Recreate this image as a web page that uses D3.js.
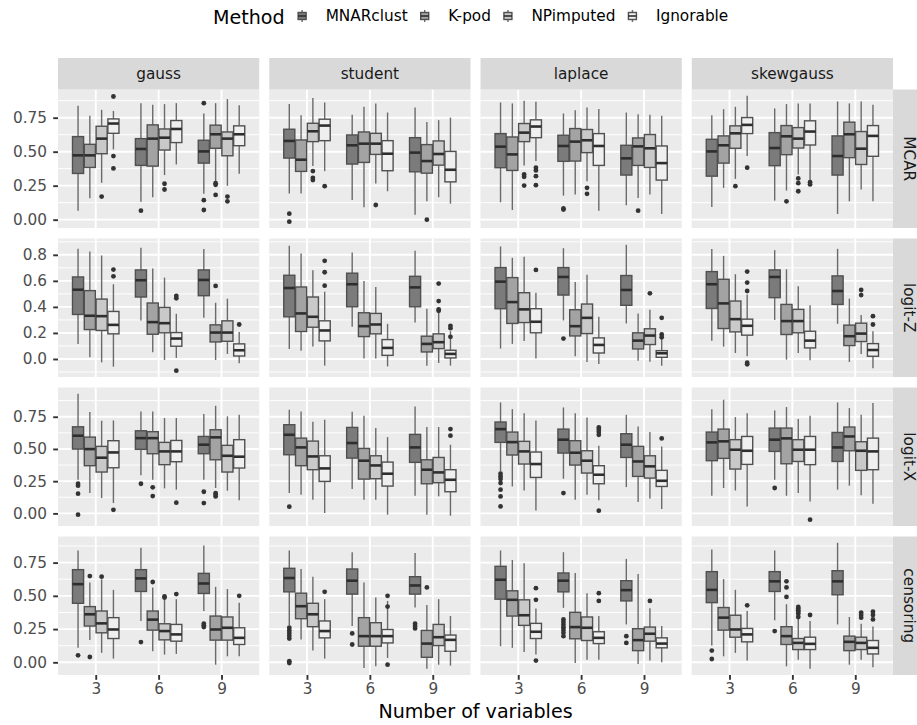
<!DOCTYPE html>
<html>
<head>
<meta charset="utf-8">
<style>
    body {
        margin: 0;
        background-color: white;
    }
    text {
        font-family: "DejaVu Sans", sans-serif;
    }
    .panel-bg {
        fill: #ebebeb;
    }
    .grid-major {
        stroke: white;
        stroke-width: 1.9;
    }
    .grid-minor {
        stroke: white;
        stroke-width: 0.95;
    }
    .strip {
        fill: #d9d9d9;
    }
    .strip-text {
        fill: #1a1a1a;
        font-size: 15.3px;
    }
    .axis text {
        fill: #4d4d4d;
        font-size: 15.3px;
        font-family: "DejaVu Sans", sans-serif;
    }
    .axis line {
        stroke: #333333;
        stroke-width: 1.9;
    }
    .whisker {
        stroke: #6a6a6a;
        stroke-width: 1.4;
    }
    .box {
        stroke: #505050;
        stroke-width: 1.4;
    }
    .median {
        stroke: #2e2e2e;
        stroke-width: 2.6;
    }
    .outlier {
        fill: #333333;
    }
</style>
</head>
<body>
<script src="https://cdn.jsdelivr.net/npm/d3@7/dist/d3.min.js"></script>
<script>
    var distributions = ["gauss", "student", "laplace", "skewgauss"];
    var mechanisms = ["MCAR", "logit-Z", "logit-X", "censoring"];
    var nVars = ["3", "6", "9"];
    var methods = ["MNARclust", "K-pod", "NPimputed", "Ignorable"];
    var methodFill = ["#7b7b7b", "#a3a3a3", "#c9c9c9", "#efefef"];

    var yTicksQuarter = [0, 0.25, 0.5, 0.75];
    var yTicksFifth = [0, 0.2, 0.4, 0.6, 0.8];

    // one row per box, order: 3 (MNARclust, K-pod, NPimputed, Ignorable), then 6, then 9
    // [lower whisker, q1, median, q3, upper whisker, outliers]
    var mcarGauss = [
        [0.066, 0.340, 0.473, 0.611, 0.837, []],
        [0.158, 0.384, 0.473, 0.554, 0.764, []],
        [0.271, 0.485, 0.596, 0.687, 0.808, [0.170]],
        [0.517, 0.635, 0.707, 0.741, 0.800, [0.906, 0.468, 0.377]],
        [0.131, 0.399, 0.520, 0.596, 0.857, [0.066]],
        [0.165, 0.394, 0.596, 0.697, 0.845, []],
        [0.328, 0.512, 0.603, 0.667, 0.850, [0.264, 0.222]],
        [0.406, 0.567, 0.667, 0.729, 0.857, []],
        [0.190, 0.416, 0.502, 0.584, 0.780, [0.857, 0.143, 0.071]],
        [0.283, 0.525, 0.628, 0.695, 0.857, [0.268, 0.256, 0.182]],
        [0.249, 0.470, 0.596, 0.645, 0.887, [0.170, 0.135]],
        [0.337, 0.544, 0.628, 0.690, 0.842, []]
    ];
    var mcarStudent = [
        [0.192, 0.453, 0.579, 0.665, 0.850, [0.044, -0.015]],
        [0.192, 0.355, 0.441, 0.586, 0.768, []],
        [0.394, 0.574, 0.650, 0.709, 0.894, [0.357, 0.308, 0.291]],
        [0.357, 0.581, 0.692, 0.739, 0.862, [0.246]],
        [0.145, 0.409, 0.547, 0.623, 0.771, []],
        [0.091, 0.421, 0.559, 0.645, 0.830, []],
        [0.266, 0.480, 0.559, 0.635, 0.855, [0.108]],
        [0.209, 0.360, 0.485, 0.581, 0.788, []],
        [0.037, 0.352, 0.493, 0.603, 0.825, []],
        [0.135, 0.342, 0.431, 0.552, 0.719, [0.000]],
        [0.165, 0.401, 0.483, 0.579, 0.732, []],
        [0.118, 0.278, 0.367, 0.502, 0.751, []]
    ];
    var mcarLaplace = [
        [0.128, 0.382, 0.537, 0.633, 0.862, []],
        [0.071, 0.362, 0.480, 0.608, 0.855, []],
        [0.399, 0.574, 0.640, 0.707, 0.874, [0.333, 0.315, 0.251]],
        [0.431, 0.603, 0.685, 0.734, 0.867, [0.382, 0.362, 0.320, 0.254]],
        [0.177, 0.429, 0.542, 0.621, 0.781, [0.074, 0.082]],
        [0.185, 0.431, 0.574, 0.670, 0.805, []],
        [0.283, 0.493, 0.584, 0.663, 0.825, [0.234, 0.190]],
        [0.066, 0.399, 0.542, 0.633, 0.813, []],
        [0.106, 0.328, 0.451, 0.547, 0.788, []],
        [0.160, 0.399, 0.539, 0.601, 0.776, [0.066]],
        [0.185, 0.384, 0.525, 0.626, 0.771, []],
        [0.042, 0.291, 0.416, 0.542, 0.764, []]
    ];
    var mcarSkewgauss = [
        [0.094, 0.320, 0.502, 0.591, 0.768, []],
        [0.234, 0.416, 0.547, 0.616, 0.813, []],
        [0.300, 0.525, 0.635, 0.690, 0.830, [0.246]],
        [0.468, 0.633, 0.697, 0.751, 0.911, [0.382]],
        [0.140, 0.397, 0.527, 0.640, 0.818, []],
        [0.214, 0.478, 0.613, 0.692, 0.850, [0.135]],
        [0.333, 0.527, 0.596, 0.677, 0.855, [0.303, 0.268, 0.209]],
        [0.283, 0.549, 0.648, 0.727, 0.855, [0.276, 0.259]],
        [0.042, 0.328, 0.468, 0.616, 0.869, []],
        [0.135, 0.456, 0.628, 0.717, 0.855, []],
        [0.222, 0.406, 0.522, 0.648, 0.869, []],
        [0.135, 0.466, 0.616, 0.692, 0.845, []]
    ];

    var logitZGauss = [
        [0.116, 0.342, 0.532, 0.630, 0.846, []],
        [0.013, 0.226, 0.332, 0.525, 0.826, []],
        [-0.026, 0.219, 0.329, 0.460, 0.795, []],
        [-0.059, 0.193, 0.262, 0.365, 0.574, [0.687, 0.635]],
        [0.296, 0.476, 0.605, 0.684, 0.854, []],
        [0.051, 0.190, 0.283, 0.430, 0.695, []],
        [-0.008, 0.201, 0.275, 0.396, 0.625, []],
        [0.008, 0.098, 0.157, 0.203, 0.347, [0.484, 0.466, -0.090]],
        [0.316, 0.486, 0.607, 0.684, 0.844, []],
        [-0.008, 0.131, 0.203, 0.262, 0.432, [0.561]],
        [0.039, 0.136, 0.203, 0.293, 0.463, []],
        [-0.033, 0.023, 0.067, 0.116, 0.208, [0.265]]
    ];
    var logitZStudent = [
        [0.077, 0.324, 0.545, 0.643, 0.869, []],
        [0.064, 0.211, 0.350, 0.553, 0.810, []],
        [0.095, 0.244, 0.324, 0.476, 0.682, []],
        [-0.051, 0.139, 0.219, 0.293, 0.517, [0.754, 0.666, 0.563]],
        [0.247, 0.401, 0.574, 0.659, 0.818, []],
        [0.003, 0.172, 0.252, 0.355, 0.599, []],
        [0.003, 0.193, 0.265, 0.350, 0.553, []],
        [-0.057, 0.028, 0.085, 0.149, 0.270, []],
        [0.280, 0.401, 0.550, 0.635, 0.831, []],
        [-0.051, 0.054, 0.116, 0.175, 0.386, []],
        [-0.031, 0.080, 0.129, 0.193, 0.376, [0.579, 0.445, 0.381, 0.370]],
        [-0.051, 0.008, 0.039, 0.067, 0.213, [0.255, 0.237, 0.170]]
    ];
    var logitZLaplace = [
        [0.080, 0.386, 0.594, 0.702, 0.864, []],
        [0.116, 0.273, 0.437, 0.625, 0.777, []],
        [0.139, 0.280, 0.381, 0.509, 0.785, []],
        [0.003, 0.201, 0.286, 0.386, 0.509, [0.684]],
        [0.296, 0.491, 0.630, 0.702, 0.851, [0.157]],
        [0.021, 0.177, 0.252, 0.378, 0.592, []],
        [-0.023, 0.195, 0.316, 0.422, 0.646, []],
        [-0.039, 0.046, 0.108, 0.162, 0.324, []],
        [0.273, 0.412, 0.530, 0.641, 0.877, []],
        [-0.013, 0.077, 0.141, 0.201, 0.350, []],
        [-0.021, 0.111, 0.180, 0.232, 0.378, [0.504]],
        [-0.051, 0.013, 0.044, 0.064, 0.177, [0.316, 0.188, 0.167]]
    ];
    var logitZSkewgauss = [
        [0.141, 0.388, 0.574, 0.671, 0.844, []],
        [0.095, 0.234, 0.427, 0.612, 0.792, []],
        [0.046, 0.208, 0.306, 0.445, 0.651, []],
        [0.021, 0.183, 0.255, 0.306, 0.496, [0.671, 0.587, 0.522, -0.028, -0.041]],
        [0.300, 0.471, 0.630, 0.684, 0.836, []],
        [-0.005, 0.188, 0.291, 0.419, 0.689, []],
        [0.046, 0.201, 0.291, 0.381, 0.558, []],
        [-0.010, 0.085, 0.141, 0.213, 0.412, []],
        [0.270, 0.419, 0.522, 0.638, 0.846, []],
        [-0.023, 0.103, 0.175, 0.260, 0.463, []],
        [0.039, 0.134, 0.195, 0.275, 0.337, [0.530, 0.491]],
        [-0.072, 0.021, 0.069, 0.118, 0.213, [0.329, 0.265]]
    ];

    var logitXGauss = [
        [0.261, 0.499, 0.603, 0.672, 0.928, [0.230, 0.215, 0.153, -0.010]],
        [0.158, 0.370, 0.499, 0.592, 0.786, []],
        [0.119, 0.321, 0.432, 0.520, 0.719, []],
        [0.080, 0.354, 0.473, 0.564, 0.721, [0.028]],
        [0.295, 0.497, 0.584, 0.641, 0.791, [0.230]],
        [0.261, 0.463, 0.584, 0.634, 0.791, [0.202, 0.134]],
        [0.194, 0.378, 0.481, 0.551, 0.740, []],
        [0.184, 0.401, 0.481, 0.566, 0.740, [0.083]],
        [0.261, 0.463, 0.533, 0.597, 0.771, [0.168, 0.080]],
        [0.197, 0.416, 0.590, 0.649, 0.835, [0.158, 0.147, 0.132]],
        [0.176, 0.321, 0.447, 0.528, 0.753, []],
        [0.101, 0.352, 0.440, 0.572, 0.765, []]
    ];
    var logitXStudent = [
        [0.158, 0.455, 0.610, 0.688, 0.804, [0.052]],
        [0.145, 0.370, 0.512, 0.584, 0.791, []],
        [0.106, 0.339, 0.442, 0.561, 0.711, []],
        [0.003, 0.248, 0.349, 0.447, 0.727, []],
        [0.189, 0.429, 0.546, 0.667, 0.789, []],
        [0.106, 0.266, 0.409, 0.504, 0.758, []],
        [0.106, 0.269, 0.372, 0.447, 0.662, []],
        [-0.010, 0.212, 0.308, 0.398, 0.592, []],
        [0.137, 0.396, 0.512, 0.613, 0.830, []],
        [-0.010, 0.230, 0.339, 0.416, 0.670, []],
        [0.132, 0.238, 0.318, 0.434, 0.670, []],
        [-0.018, 0.168, 0.261, 0.339, 0.533, [0.654, 0.603]]
    ];
    var logitXLaplace = [
        [0.326, 0.551, 0.654, 0.709, 0.861, [0.308, 0.287, 0.266, 0.235, 0.184, 0.132, 0.054]],
        [0.209, 0.453, 0.553, 0.631, 0.809, []],
        [0.178, 0.383, 0.481, 0.559, 0.778, []],
        [0.023, 0.279, 0.383, 0.476, 0.721, []],
        [0.269, 0.468, 0.572, 0.654, 0.822, [0.158]],
        [0.106, 0.375, 0.471, 0.564, 0.778, []],
        [0.145, 0.313, 0.409, 0.486, 0.745, []],
        [0.101, 0.230, 0.300, 0.370, 0.525, [0.667, 0.649, 0.631, 0.610, 0.021]],
        [0.204, 0.434, 0.533, 0.618, 0.765, []],
        [0.088, 0.287, 0.403, 0.520, 0.675, []],
        [0.116, 0.274, 0.365, 0.447, 0.631, []],
        [0.034, 0.209, 0.253, 0.334, 0.520, [0.582]]
    ];
    var logitXSkewgauss = [
        [0.137, 0.409, 0.551, 0.631, 0.809, []],
        [0.197, 0.427, 0.559, 0.654, 0.882, []],
        [0.178, 0.344, 0.494, 0.572, 0.747, []],
        [0.054, 0.380, 0.486, 0.597, 0.778, []],
        [0.261, 0.481, 0.572, 0.662, 0.799, [0.197]],
        [0.137, 0.385, 0.582, 0.662, 0.825, []],
        [0.158, 0.403, 0.494, 0.572, 0.732, []],
        [0.093, 0.378, 0.494, 0.597, 0.758, [-0.049]],
        [0.184, 0.403, 0.512, 0.628, 0.861, []],
        [0.215, 0.486, 0.597, 0.670, 0.817, []],
        [0.140, 0.334, 0.486, 0.556, 0.765, []],
        [0.075, 0.339, 0.481, 0.584, 0.856, []]
    ];

    var censGauss = [
        [0.109, 0.444, 0.588, 0.697, 0.841, [0.053]],
        [0.167, 0.273, 0.361, 0.419, 0.601, [0.649, 0.040]],
        [0.071, 0.222, 0.293, 0.386, 0.624, [0.644]],
        [0.028, 0.179, 0.247, 0.336, 0.545, []],
        [0.311, 0.533, 0.631, 0.697, 0.861, [0.152]],
        [0.083, 0.242, 0.321, 0.386, 0.563, [0.604]],
        [0.058, 0.169, 0.235, 0.290, 0.482, [0.495, 0.487]],
        [0.063, 0.159, 0.210, 0.285, 0.475, [0.513]],
        [0.386, 0.518, 0.593, 0.669, 0.879, [0.290, 0.278, 0.265]],
        [-0.018, 0.167, 0.247, 0.348, 0.568, []],
        [0.045, 0.167, 0.260, 0.341, 0.551, []],
        [0.045, 0.134, 0.184, 0.260, 0.449, [0.500]]
    ];
    var censStudent = [
        [0.280, 0.530, 0.634, 0.707, 0.841, [0.260, 0.240, 0.220, 0.200, 0.179, 0.008, -0.005]],
        [0.172, 0.328, 0.422, 0.520, 0.702, []],
        [0.088, 0.268, 0.361, 0.444, 0.644, []],
        [0.028, 0.184, 0.235, 0.311, 0.475, [0.530]],
        [0.273, 0.513, 0.614, 0.702, 0.828, [0.217, 0.134]],
        [-0.043, 0.121, 0.197, 0.336, 0.601, []],
        [-0.030, 0.121, 0.197, 0.298, 0.487, []],
        [0.033, 0.146, 0.197, 0.247, 0.462, [0.500, 0.419, -0.018]],
        [0.412, 0.513, 0.578, 0.644, 0.823, [0.290, 0.273, 0.255]],
        [-0.048, 0.038, 0.141, 0.240, 0.432, [0.563]],
        [-0.018, 0.126, 0.189, 0.285, 0.475, []],
        [-0.025, 0.083, 0.169, 0.205, 0.348, []]
    ];
    var censLaplace = [
        [0.121, 0.475, 0.621, 0.722, 0.841, []],
        [0.109, 0.348, 0.470, 0.538, 0.770, []],
        [0.078, 0.278, 0.354, 0.470, 0.745, []],
        [0.058, 0.179, 0.230, 0.293, 0.404, [0.558, 0.470, 0.013]],
        [0.410, 0.530, 0.614, 0.672, 0.828, [0.323, 0.303, 0.283, 0.263, 0.243, 0.222, 0.197]],
        [-0.005, 0.177, 0.265, 0.376, 0.672, []],
        [0.020, 0.164, 0.260, 0.341, 0.520, []],
        [0.020, 0.141, 0.184, 0.230, 0.348, [0.520, 0.462]],
        [0.285, 0.462, 0.543, 0.614, 0.778, [0.197, 0.146]],
        [-0.013, 0.088, 0.167, 0.253, 0.664, []],
        [0.013, 0.159, 0.215, 0.265, 0.407, [0.462]],
        [0.000, 0.109, 0.141, 0.184, 0.273, []]
    ];
    var censSkewgauss = [
        [0.126, 0.449, 0.545, 0.682, 0.848, [0.088, 0.025]],
        [0.045, 0.242, 0.336, 0.412, 0.626, []],
        [0.071, 0.189, 0.247, 0.354, 0.545, []],
        [0.013, 0.154, 0.210, 0.255, 0.386, [0.429]],
        [0.316, 0.533, 0.609, 0.682, 0.841, [0.235]],
        [-0.030, 0.134, 0.197, 0.268, 0.437, [0.609, 0.563, 0.492]],
        [0.020, 0.096, 0.146, 0.179, 0.336, [0.417, 0.404, 0.391, 0.378, 0.366, 0.341]],
        [-0.048, 0.096, 0.139, 0.189, 0.311, [0.356]],
        [0.285, 0.508, 0.609, 0.689, 0.899, []],
        [-0.018, 0.088, 0.154, 0.197, 0.341, []],
        [0.020, 0.096, 0.146, 0.189, 0.290, [0.374, 0.356, 0.336]],
        [-0.038, 0.063, 0.109, 0.164, 0.270, [0.381, 0.356, 0.323]]
    ];

    var facetRows = [
        [mcarGauss, mcarStudent, mcarLaplace, mcarSkewgauss],
        [logitZGauss, logitZStudent, logitZLaplace, logitZSkewgauss],
        [logitXGauss, logitXStudent, logitXLaplace, logitXSkewgauss],
        [censGauss, censStudent, censLaplace, censSkewgauss]
    ];
    var rowTicks = [yTicksQuarter, yTicksFifth, yTicksQuarter, yTicksQuarter];
    var rowFormat = [".2f", ".1f", ".2f", ".2f"];

    var width = 917, height = 725;
    var panelLeft = 58, panelRight = 893, panelTop = 89.5, panelBottom = 675;
    var gapX = 10, gapY = 10.5;
    var stripH = 31.5, stripW = 32;
    var panelW = (panelRight - panelLeft - 3 * gapX) / 4;
    var panelH = (panelBottom - panelTop - 3 * gapY) / 4;

    var svg = d3.select("body")
            .append("svg")
            .attr("width", width)
            .attr("height", height)
            .style("background-color", "white");

    var x = d3.scalePoint()
            .domain(nVars)
            .range([0, panelW])
            .padding(0.6);

    var dodge = d3.scaleBand()
            .domain(methods)
            .range([-0.375 * x.step(), 0.375 * x.step()]);

    var fill = d3.scaleOrdinal()
            .domain(methods)
            .range(methodFill);

    function rowScale(rowData) {
        var lo = Infinity, hi = -Infinity;
        rowData.forEach(function (facet) {
            facet.forEach(function (b) {
                lo = Math.min(lo, b[0], d3.min(b[5]) === undefined ? b[0] : d3.min(b[5]));
                hi = Math.max(hi, b[4], d3.max(b[5]) === undefined ? b[4] : d3.max(b[5]));
            });
        });
        var pad = (hi - lo) * 0.05;
        return d3.scaleLinear().domain([lo - pad, hi + pad]).range([panelH, 0]);
    }

    function minorBreaks(ticks, y) {
        var step = ticks[1] - ticks[0];
        var dom = y.domain();
        var out = [];
        for (var v = ticks[0] - step / 2; v <= dom[1]; v += step) {
            if (v >= dom[0]) out.push(v);
        }
        return out;
    }

    mechanisms.forEach(function (mech, r) {
        var y = rowScale(facetRows[r]);
        var ticks = rowTicks[r];
        var top = panelTop + r * (panelH + gapY);

        distributions.forEach(function (dist, c) {
            var left = panelLeft + c * (panelW + gapX);
            var g = svg.append("g")
                    .attr("transform", "translate(" + left + "," + top + ")");

            g.append("rect")
                    .classed("panel-bg", 1)
                    .attr("width", panelW)
                    .attr("height", panelH);

            g.selectAll(".grid-minor")
                    .data(minorBreaks(ticks, y))
                    .enter()
                    .append("line")
                    .classed("grid-minor", 1)
                    .attr("x1", 0)
                    .attr("x2", panelW)
                    .attr("y1", function (d) { return y(d); })
                    .attr("y2", function (d) { return y(d); });

            g.selectAll(".grid-h")
                    .data(ticks)
                    .enter()
                    .append("line")
                    .attr("class", "grid-major grid-h")
                    .attr("x1", 0)
                    .attr("x2", panelW)
                    .attr("y1", function (d) { return y(d); })
                    .attr("y2", function (d) { return y(d); });

            g.selectAll(".grid-v")
                    .data(nVars)
                    .enter()
                    .append("line")
                    .attr("class", "grid-major grid-v")
                    .attr("x1", function (d) { return x(d); })
                    .attr("x2", function (d) { return x(d); })
                    .attr("y1", 0)
                    .attr("y2", panelH);

            var boxes = facetRows[r][c].map(function (b, i) {
                return {
                    nv: nVars[Math.floor(i / 4)],
                    method: methods[i % 4],
                    lo: b[0], q1: b[1], med: b[2], q3: b[3], hi: b[4],
                    outliers: b[5]
                };
            });

            var bw = dodge.bandwidth();
            function cx(d) {
                return x(d.nv) + dodge(d.method) + bw / 2;
            }

            var bg = g.selectAll(".boxplot")
                    .data(boxes)
                    .enter()
                    .append("g")
                    .classed("boxplot", 1);

            bg.append("line")
                    .classed("whisker", 1)
                    .attr("x1", cx).attr("x2", cx)
                    .attr("y1", function (d) { return y(d.hi); })
                    .attr("y2", function (d) { return y(d.q3); });

            bg.append("line")
                    .classed("whisker", 1)
                    .attr("x1", cx).attr("x2", cx)
                    .attr("y1", function (d) { return y(d.q1); })
                    .attr("y2", function (d) { return y(d.lo); });

            bg.append("rect")
                    .classed("box", 1)
                    .attr("x", function (d) { return cx(d) - bw * 0.47; })
                    .attr("width", bw * 0.94)
                    .attr("y", function (d) { return y(d.q3); })
                    .attr("height", function (d) { return y(d.q1) - y(d.q3); })
                    .attr("fill", function (d) { return fill(d.method); });

            bg.append("line")
                    .classed("median", 1)
                    .attr("x1", function (d) { return cx(d) - bw * 0.47; })
                    .attr("x2", function (d) { return cx(d) + bw * 0.47; })
                    .attr("y1", function (d) { return y(d.med); })
                    .attr("y2", function (d) { return y(d.med); });

            bg.selectAll(".outlier")
                    .data(function (d) {
                        return d.outliers.map(function (v) { return { x: cx(d), v: v }; });
                    })
                    .enter()
                    .append("circle")
                    .classed("outlier", 1)
                    .attr("cx", function (d) { return d.x; })
                    .attr("cy", function (d) { return y(d.v); })
                    .attr("r", 2.4);

            // top strips
            if (r === 0) {
                svg.append("rect")
                        .classed("strip", 1)
                        .attr("x", left)
                        .attr("y", panelTop - stripH)
                        .attr("width", panelW)
                        .attr("height", stripH);
                svg.append("text")
                        .classed("strip-text", 1)
                        .attr("x", left + panelW / 2)
                        .attr("y", panelTop - stripH / 2)
                        .attr("dy", "0.35em")
                        .attr("text-anchor", "middle")
                        .text(dist);
            }

            if (c === 0) {
                var ax = g.append("g")
                        .classed("axis", 1)
                        .call(d3.axisLeft(y)
                                .tickValues(ticks)
                                .tickFormat(d3.format(rowFormat[r]))
                                .tickSize(4.8)
                                .tickPadding(6.2));
                ax.select(".domain").remove();
            }

            if (r === mechanisms.length - 1) {
                var bx = g.append("g")
                        .classed("axis", 1)
                        .attr("transform", "translate(0," + panelH + ")")
                        .call(d3.axisBottom(x)
                                .tickSize(4.8)
                                .tickPadding(3.5));
                bx.select(".domain").remove();
            }
        });

        // right strip
        var sx = panelRight;
        svg.append("rect")
                .classed("strip", 1)
                .attr("x", sx)
                .attr("y", top)
                .attr("width", stripW)
                .attr("height", panelH);
        svg.append("text")
                .classed("strip-text", 1)
                .attr("transform", "translate(" + (sx + stripW / 2) + "," + (top + panelH / 2) + ") rotate(90)")
                .attr("dy", "0.35em")
                .attr("text-anchor", "middle")
                .text(mech);
    });

    svg.append("text")
            .attr("x", (panelLeft + panelRight) / 2)
            .attr("y", 718)
            .attr("text-anchor", "middle")
            .style("font-size", "19.1px")
            .style("fill", "black")
            .text("Number of variables");

    // legend
    var legend = svg.append("g").classed("legend", 1);
    var legendTitle = legend.append("text")
            .attr("x", 213)
            .attr("y", 24)
            .style("font-size", "19.1px")
            .style("fill", "black")
            .text("Method");

    var cursor = 213 + legendTitle.node().getComputedTextLength() + 17.5;
    methods.forEach(function (m) {
        var key = legend.append("g")
                .attr("transform", "translate(" + cursor + ",16)");
        key.append("line")
                .classed("whisker", 1)
                .attr("x1", 0).attr("x2", 0)
                .attr("y1", -6).attr("y2", 6);
        key.append("rect")
                .classed("box", 1)
                .attr("x", -4).attr("y", -3.5)
                .attr("width", 8).attr("height", 7)
                .attr("fill", fill(m));
        key.append("line")
                .classed("median", 1)
                .style("stroke-width", 1.6)
                .attr("x1", -4).attr("x2", 4)
                .attr("y1", 0).attr("y2", 0);
        var label = legend.append("text")
                .attr("x", cursor + 23.5)
                .attr("y", 16)
                .attr("dy", "0.35em")
                .style("font-size", "15.3px")
                .style("fill", "black")
                .text(m);
        cursor += 23.5 + label.node().getComputedTextLength() + 17;
    });
</script>
</body>
</html>
